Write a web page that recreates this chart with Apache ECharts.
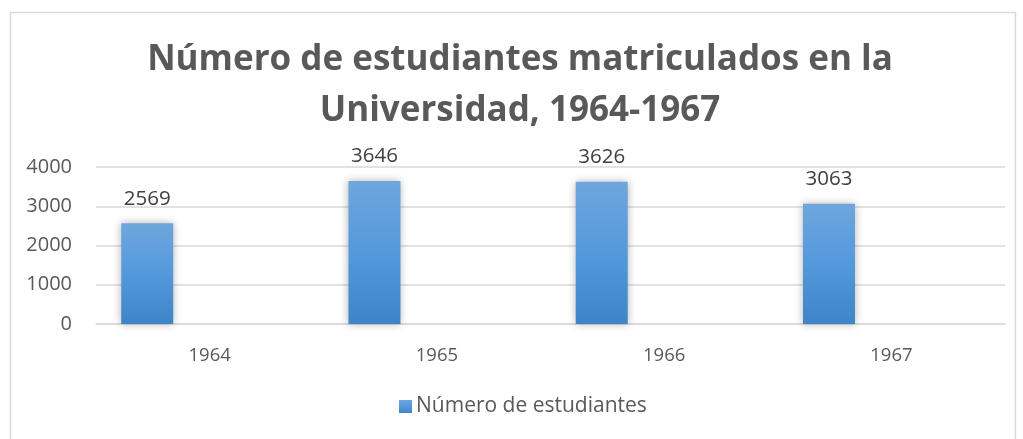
<!DOCTYPE html>
<html>
<head>
<meta charset="utf-8">
<script src="https://cdn.jsdelivr.net/npm/echarts@6/dist/echarts.min.js"></script>
<style>html,body{margin:0;padding:0;background:#fff;}#c{width:1023px;height:439px;}</style>
</head>
<body>
<div id="c"></div>
<script>
const titleText = 'Número de estudiantes matriculados en la\nUniversidad, 1964-1967';
const categories = ['1964', '1965', '1966', '1967'];
const seriesName = 'Número de estudiantes';
const values = [2569, 3646, 3626, 3063];
const yTicks = [0, 1000, 2000, 3000, 4000];

const chart = echarts.init(document.getElementById('c'));
const font = '"Open Sans", "Noto Sans", sans-serif';
chart.setOption({
  animation: false,
  textStyle: { fontFamily: font },
  graphic: [{
    type: 'rect', left: 8, top: 10,
    shape: { width: 1005, height: 440 },
    style: { fill: 'none', stroke: '#d9d9d9', lineWidth: 1.5 },
    silent: true
  }],
  title: {
    text: titleText, left: 520, textAlign: 'center', top: 35, padding: 0,
    textStyle: { fontFamily: font, fontSize: 35, fontWeight: 'bold', color: '#595959', lineHeight: 51 }
  },
  legend: {
    top: 396, left: 399, data: [seriesName], padding: 0,
    icon: 'rect', itemWidth: 13, itemHeight: 13, itemGap: 5,
    textStyle: { fontFamily: font, fontSize: 21, color: '#595959', padding: [0,0,0,-1] }
  },
  grid: { left: 96, right: 18, top: 167, bottom: 115, containLabel: false },
  xAxis: {
    type: 'category', data: categories,
    axisLine: { lineStyle: { color: '#d9d9d9', width: 1.5 } },
    axisTick: { show: false },
    axisLabel: { fontFamily: font, fontSize: 18.5, color: '#595959', margin: 22 }
  },
  yAxis: {
    type: 'value', min: yTicks[0], max: yTicks[yTicks.length-1], interval: 1000,
    axisLine: { show: false }, axisTick: { show: false },
    splitLine: { lineStyle: { color: '#d9d9d9', width: 1.5 } },
    axisLabel: { fontFamily: font, fontSize: 20, color: '#595959', margin: 24, formatter: v => String(v) }
  },
  series: [{
    name: seriesName, type: 'bar', data: values, barWidth: 52, barGap: '140%',
    itemStyle: {
      color: new echarts.graphic.LinearGradient(0,0,0,1,[
        {offset:0,color:'#6fa6dd'},{offset:0.5,color:'#5499dc'},{offset:1,color:'#3e84c8'}]),
      shadowColor: 'rgba(0,0,0,0.3)', shadowBlur: 8, shadowOffsetX: 0, shadowOffsetY: 0
    },
    label: { show: true, position: 'top', distance: 14, fontFamily: font, fontSize: 20.5, color: '#404040' }
  }, {
    name: 'vacío', type: 'bar', data: categories.map(() => null), barWidth: 52
  }]
});
</script>
</body>
</html>
